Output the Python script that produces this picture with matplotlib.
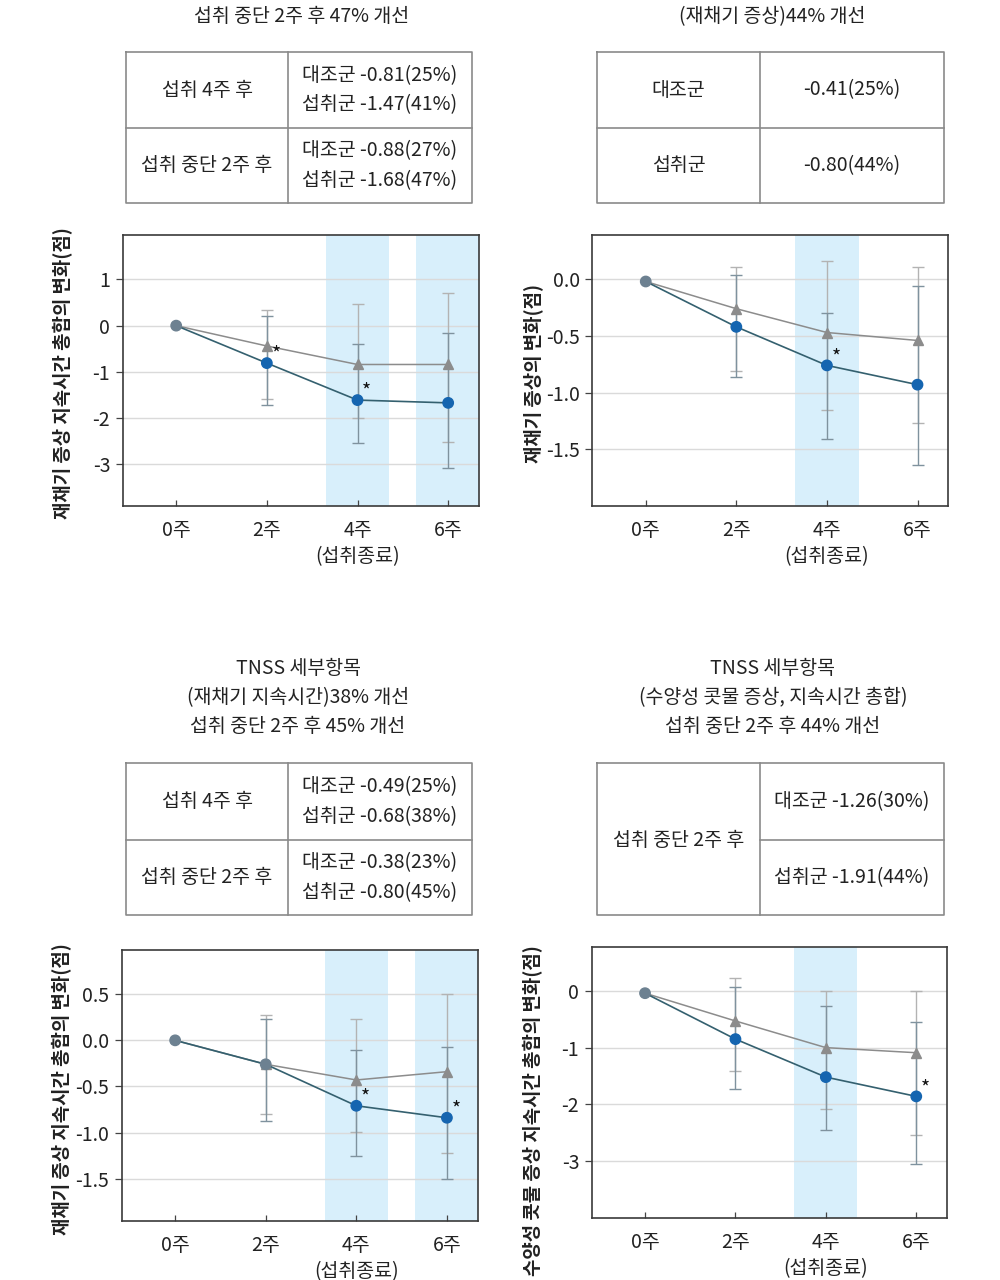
import matplotlib
matplotlib.use('Agg')
import matplotlib.pyplot as plt
from matplotlib.ticker import FormatStrFormatter
import numpy as np

plt.rcParams['font.family'] = ['Noto Sans CJK KR', 'DejaVu Sans']
plt.rcParams['axes.unicode_minus'] = False

# Data
weeks = [0, 2, 4, 6]
week_labels = ['0주', '2주', '4주\n(섭취종료)', '6주']
err_weeks = [2, 4, 6]

# panel 1: 재채기 증상 지속시간 총합
p1_control = [0, -0.44, -0.84, -0.84]
p1_treat = [0, -0.81, -1.61, -1.67]
p1_control_hi = [0.33, 0.46, 0.71]
p1_control_lo = [-1.59, -1.99, -2.52]
p1_treat_hi = [0.20, -0.40, -0.15]
p1_treat_lo = [-1.71, -2.53, -3.08]
p1_stars = [2, 4]
p1_bands = [4, 6]
p1_yticks = [1, 0, -1, -2, -3]

# panel 2: 재채기 증상
p2_control = [-0.02, -0.26, -0.47, -0.54]
p2_treat = [-0.02, -0.42, -0.76, -0.93]
p2_control_hi = [0.11, 0.16, 0.11]
p2_control_lo = [-0.81, -1.15, -1.27]
p2_treat_hi = [0.035, -0.30, -0.06]
p2_treat_lo = [-0.86, -1.41, -1.64]
p2_stars = [4]
p2_bands = [4]
p2_yticks = [0, -0.5, -1.0, -1.5]

# panel 3: 재채기 지속시간
p3_control = [0, -0.26, -0.43, -0.34]
p3_treat = [0, -0.26, -0.71, -0.84]
p3_control_hi = [0.28, 0.23, 0.50]
p3_control_lo = [-0.80, -0.99, -1.22]
p3_treat_hi = [0.23, -0.11, -0.07]
p3_treat_lo = [-0.87, -1.25, -1.50]
p3_stars = [4, 6]
p3_bands = [4, 6]
p3_yticks = [0.5, 0, -0.5, -1.0, -1.5]

# panel 4: 수양성 콧물 증상
p4_control = [-0.04, -0.53, -1.0, -1.09]
p4_treat = [-0.04, -0.85, -1.52, -1.86]
p4_control_hi = [0.22, 0.0, 0.0]
p4_control_lo = [-1.42, -2.09, -2.54]
p4_treat_hi = [0.065, -0.27, -0.54]
p4_treat_lo = [-1.73, -2.46, -3.06]
p4_stars = [6]
p4_bands = [4]
p4_yticks = [0, -1, -2, -3]

ylabel_long = '재채기 증상 지속시간 총합의 변화(점)'
ylabel_short = '재채기 증상의 변화(점)'
ylabel_nose = '수양성 콧물 증상 지속시간 총합의 변화(점)'

# tables
t1_title = ['섭취 중단 2주 후 47% 개선']
t1_rows = [('섭취 4주 후', ['대조군 -0.81(25%)', '섭취군 -1.47(41%)']),
           ('섭취 중단 2주 후', ['대조군 -0.88(27%)', '섭취군 -1.68(47%)'])]
t2_title = ['(재채기 증상)44% 개선']
t2_rows = [('대조군', '-0.41(25%)'), ('섭취군', '-0.80(44%)')]
t3_title = ['TNSS 세부항목', '(재채기 지속시간)38% 개선', '섭취 중단 2주 후 45% 개선']
t3_rows = [('섭취 4주 후', ['대조군 -0.49(25%)', '섭취군 -0.68(38%)']),
           ('섭취 중단 2주 후', ['대조군 -0.38(23%)', '섭취군 -0.80(45%)'])]
t4_title = ['TNSS 세부항목', '(수양성 콧물 증상, 지속시간 총합)', '섭취 중단 2주 후 44% 개선']
t4_label = '섭취 중단 2주 후'
t4_values = ['대조군 -1.26(30%)', '섭취군 -1.91(44%)']

# colours
BLUE = '#1565b0'
TEAL = '#34606f'
GRAY = '#8c8c8c'
ZERO = '#6d8191'
BAND = '#d8effb'
ERR_C = '#b3b3b3'
ERR_T = '#7f929e'
TXT = '#222222'

fig = plt.figure(figsize=(10, 12.8), dpi=100)


def draw_panel(rect, control, treat, c_hi, c_lo, t_hi, t_lo, stars, bands,
               yticks, ylim, fmt, ylabel, label_y):
    ax = fig.add_axes(rect)
    for b in bands:
        ax.axvspan(b - 0.7, b + 0.7, color=BAND, lw=0, zorder=0)
    ax.set_axisbelow(True)
    ax.grid(axis='y', color='#dadada', lw=1)

    c_hi = np.array(c_hi); c_lo = np.array(c_lo)
    t_hi = np.array(t_hi); t_lo = np.array(t_lo)
    cmid = np.array(control[1:]); tmid = np.array(treat[1:])
    ax.errorbar(err_weeks, cmid, yerr=[cmid - c_lo, c_hi - cmid], fmt='none',
                ecolor=ERR_C, elinewidth=1, capsize=4.3, capthick=1, zorder=2)
    ax.errorbar(err_weeks, tmid, yerr=[tmid - t_lo, t_hi - tmid], fmt='none',
                ecolor=ERR_T, elinewidth=1, capsize=4.3, capthick=1, zorder=2)

    ax.plot(weeks, control, color=GRAY, lw=1.1, zorder=3)
    ax.plot(weeks[1:], control[1:], ls='none', marker='^', ms=7.5, color=GRAY, zorder=4)
    ax.plot(weeks, treat, color=TEAL, lw=1.2, zorder=5)
    same = np.isclose(treat, control)
    cols = [ZERO if s else BLUE for s in same]
    ax.scatter(weeks, treat, s=56, c=cols, edgecolors=cols, zorder=6)

    for s in stars:
        ax.annotate('*', (s, treat[weeks.index(s)]), xytext=(6.5, -2),
                    textcoords='offset points', fontsize=14, color='#111111',
                    ha='center', va='bottom', zorder=7)

    ax.set_xlim(-1.18, 6.68)
    ax.set_ylim(*ylim)
    ax.set_xticks(weeks)
    ax.set_xticklabels(week_labels, fontsize=14, color=TXT, linespacing=1.3,
                       va='top')
    ax.set_yticks(yticks)
    ax.yaxis.set_major_formatter(FormatStrFormatter(fmt))
    ax.tick_params(axis='x', direction='in', length=4.5, width=0.9, pad=10,
                   color='#444444')
    ax.tick_params(axis='y', direction='out', length=5, width=0.9, pad=4,
                   labelsize=14, labelcolor=TXT, color='#444444')
    for sp in ax.spines.values():
        sp.set_color('#3a3a3a')
        sp.set_linewidth(1.2)
    ax.set_ylabel(ylabel, fontsize=13.6, fontweight='bold', color=TXT)
    ax.yaxis.set_label_coords(-0.138, label_y)
    return ax


draw_panel([0.1227, 0.6047, 0.3563, 0.2117], p1_control, p1_treat,
           p1_control_hi, p1_control_lo, p1_treat_hi, p1_treat_lo,
           p1_stars, p1_bands, p1_yticks, (-3.9, 1.96), '%d', ylabel_long, 0.49)
draw_panel([0.5923, 0.6047, 0.356, 0.2117], p2_control, p2_treat,
           p2_control_hi, p2_control_lo, p2_treat_hi, p2_treat_lo,
           p2_stars, p2_bands, p2_yticks, (-2.0, 0.39), '%.1f', ylabel_short, 0.49)
draw_panel([0.1217, 0.0461, 0.356, 0.2117], p3_control, p3_treat,
           p3_control_hi, p3_control_lo, p3_treat_hi, p3_treat_lo,
           p3_stars, p3_bands, p3_yticks, (-1.96, 0.98), '%.1f', ylabel_long, 0.487)
draw_panel([0.5917, 0.0482, 0.3553, 0.2122], p4_control, p4_treat,
           p4_control_hi, p4_control_lo, p4_treat_hi, p4_treat_lo,
           p4_stars, p4_bands, p4_yticks, (-4.01, 0.78), '%d', ylabel_nose, 0.395)

# overlay for titles and tables (pixel coordinates)
ov = fig.add_axes([0, 0, 1, 1])
ov.set_xlim(0, 1000)
ov.set_ylim(1280, 0)
ov.axis('off')

LINE = '#8a8a8a'
FS = 14


def box(x0, x1, y0, y1):
    ov.plot([x0, x1, x1, x0, x0], [y0, y0, y1, y1, y0], color=LINE, lw=1.2)


def title(lines, xc, y_first, step=29.5):
    for i, t in enumerate(lines):
        ov.text(xc, y_first + i * step, t, fontsize=FS, ha='center', va='center', color=TXT)


def two_line_table(rows, x0, xm, x1, y0, ym, y1):
    box(x0, x1, y0, y1)
    ov.plot([xm, xm], [y0, y1], color=LINE, lw=1.2)
    ov.plot([x0, x1], [ym, ym], color=LINE, lw=1.2)
    for (label, vals), (a, b) in zip(rows, [(y0, ym), (ym, y1)]):
        yc = (a + b) / 2
        ov.text((x0 + xm) / 2, yc, label, fontsize=FS, ha='center', va='center', color=TXT)
        ov.text(xm + 14, yc - 14.5, vals[0], fontsize=FS, ha='left', va='center', color=TXT)
        ov.text(xm + 14, yc + 15, vals[1], fontsize=FS, ha='left', va='center', color=TXT)


# top-left
title(t1_title, 302, 17)
two_line_table(t1_rows, 126, 288, 472, 52, 128, 203)

# top-right
title(t2_title, 772, 17)
box(597, 944, 52, 203)
ov.plot([760, 760], [52, 203], color=LINE, lw=1.2)
ov.plot([597, 944], [128, 128], color=LINE, lw=1.2)
for (label, val), (a, b) in zip(t2_rows, [(52, 128), (128, 203)]):
    yc = (a + b) / 2
    ov.text((597 + 760) / 2, yc, label, fontsize=FS, ha='center', va='center', color=TXT)
    ov.text((760 + 944) / 2, yc, val, fontsize=FS, ha='center', va='center', color=TXT)

# bottom-left
title(t3_title, 298, 668)
two_line_table(t3_rows, 126, 288, 472, 763, 840, 915)

# bottom-right
title(t4_title, 773, 668)
box(597, 944, 763, 915)
ov.plot([760, 760], [763, 915], color=LINE, lw=1.2)
ov.plot([760, 944], [840, 840], color=LINE, lw=1.2)
ov.text((597 + 760) / 2, 840, t4_label, fontsize=FS, ha='center', va='center', color=TXT)
ov.text((760 + 944) / 2, 802, t4_values[0], fontsize=FS, ha='center', va='center', color=TXT)
ov.text((760 + 944) / 2, 878, t4_values[1], fontsize=FS, ha='center', va='center', color=TXT)

fig.savefig('out.png', dpi=100, facecolor='white')
